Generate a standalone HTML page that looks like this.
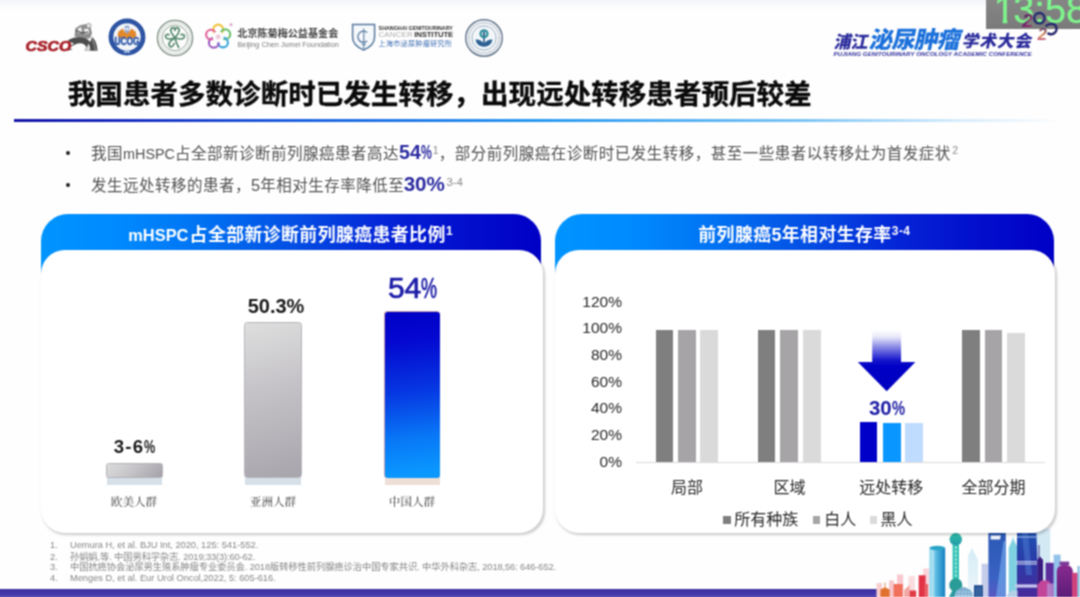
<!DOCTYPE html>
<html lang="zh-CN">
<head>
<meta charset="utf-8">
<title>我国患者多数诊断时已发生转移，出现远处转移患者预后较差</title>
<style>
*{margin:0;padding:0;box-sizing:border-box}
html,body{width:1080px;height:597px;overflow:hidden;background:#fefefe}
body{position:relative;font-family:"Liberation Sans","Noto Sans CJK SC",sans-serif;color:#111}
#clip{position:absolute;left:0;top:0;width:1080px;height:597px;overflow:hidden;contain:strict}
#stage{position:absolute;left:-20px;top:-20px;width:1120px;height:637px;background:#fefefe;filter:url(#soft)}
#page{position:absolute;left:20px;top:20px;width:1080px;height:597px}
.abs{position:absolute}
.nw{white-space:nowrap}
#topshade{left:-20px;top:-10px;width:1120px;height:20px;background:linear-gradient(#f3f4f9 0%,#f3f4f9 50%,#fefefe 100%)}
#title{left:67.8px;top:74.6px;font-size:27.5px;font-weight:700;line-height:40px;color:#0a0a0a;letter-spacing:.05px;-webkit-text-stroke:.35px #0a0a0a}
#rule{left:14px;top:118.5px;width:1050px;height:3px;background:linear-gradient(90deg,#1616a6 0%,#1a2cc0 10%,#1f62e0 27%,#2a9af0 50%,#7cc4f5 75%,rgba(190,225,250,.6) 90%,rgba(255,255,255,0) 100%)}
.bul{font-size:15.5px;color:#505050;line-height:24px;letter-spacing:.5px}
.bul .lt{font-size:14.4px;letter-spacing:0}
.pc{display:inline-block;transform-origin:0 50%}
.bul b{font-family:"Liberation Sans",sans-serif;color:#2a2aa0;font-weight:700;letter-spacing:0}
.bul sup{font-size:10.5px;vertical-align:baseline;position:relative;top:-5px;letter-spacing:0;color:#8a8a8a;margin-left:1.5px}
.dot{width:3.8px;height:3.8px;border-radius:50%;background:#222}
.hdr{height:60px;border-radius:27px 27px 0 0;color:#fff;font-weight:700;font-size:17.9px;line-height:42.4px;letter-spacing:.4px}
.hdr span{position:absolute;top:0;white-space:nowrap}
.hdr sup{font-size:12px;vertical-align:baseline;position:relative;top:-6.5px;margin-left:.3px}
.card{background:#fff;border-radius:24px;box-shadow:1.5px 2px 2.5px rgba(0,0,0,.2)}
.ref{font-size:9.3px;color:#868686;line-height:10.6px;letter-spacing:-.02px}
.ylab{font-size:15.5px;color:#262626;width:60px;text-align:right;line-height:18px}
.xlab{font-size:16px;color:#262626;text-align:center;width:100px;line-height:20px}
.bar{position:absolute}
.vlab{font-weight:700;text-align:center;line-height:24px;color:#1a1a1a}
.clab{font-family:"Liberation Serif","Noto Serif CJK SC",serif;font-size:11.6px;color:#333;width:100px;text-align:center;line-height:16px}
</style>
</head>
<body>
<svg width="0" height="0" style="position:absolute" aria-hidden="true"><defs><filter id="soft" x="0" y="0" width="100%" height="100%" color-interpolation-filters="sRGB"><feConvolveMatrix order="3" kernelMatrix="1 2 1 2 4 2 1 2 1" divisor="16" edgeMode="duplicate" preserveAlpha="true"/></filter></defs></svg>
<div id="clip"><div id="stage"><div id="page">
<div id="topshade" class="abs"></div>

<!-- HEADER LOGOS -->
<div id="logos" class="abs" style="left:0;top:0;width:1080px;height:70px">
<!-- CSCO -->
<svg class="abs" style="left:20px;top:18px" width="85" height="40" viewBox="20 18 85 40">
 <path d="M74.6 36.5 L75.2 28.6 L80 25.2 L86.2 24 L90.6 27.2 L92 33 L90.4 38 L84 39.5 Z" fill="#8e8e8e"/>
 <path d="M77 29.5 L81 27 L82 31.5 L78.5 33Z M84 29 L88.5 28.5 L89 33 L85 34Z" fill="#f0f0f0"/>
 <path d="M76 30 L82 33 L88 32" fill="none" stroke="#3c3c3c" stroke-width="1"/>
 <circle cx="88.8" cy="25.6" r="2.3" fill="#e4e4e4" stroke="#8a8a8a" stroke-width=".7"/>
 <path d="M67.5 41 Q73 36.2 82 37.6 Q87.5 38.6 90 42 L92.4 37 Q95.4 40 96.8 45.5 L97.6 50.8 H84.5 L86.4 47.2 Q84 42.2 77.5 43.6 Q72.5 45 69.6 48.8 L72.8 49.6 L68 50.6 Q70.4 45.2 74 43.4 Q70.6 42.2 67.5 41Z" fill="#4c4c4c"/>
 <path d="M88.6 43.5 Q90.6 46 90 50.8 H84.6 L86.6 47.4Z" fill="#d6d6d6"/>
 <path d="M92.6 39.4 L95.8 50.6" stroke="#9a9a9a" stroke-width="1.1"/>
 <text x="25.6" y="50.7" font-family="'Liberation Sans',sans-serif" font-weight="700" font-style="italic" font-size="14.2" fill="#a9222b" stroke="#a9222b" stroke-width=".7" textLength="45.6" lengthAdjust="spacingAndGlyphs">CSCO</text>
</svg>
<!-- UCOG -->
<svg class="abs" style="left:105.3px;top:15.2px" width="44" height="44" viewBox="-22 -22 44 44">
 <circle r="18.4" fill="#234c9e"/>
 <circle r="13.7" fill="#f3f5f9"/>
 <circle r="16" fill="none" stroke="#6f8cc6" stroke-width="1.2" stroke-dasharray="1.3 1.5" opacity=".6"/>
 <path d="M-9.5 -1 L-8.6 -5.6 L-4.4 -8.4 L-1.6 -4.6 L0 -6.4 L1.6 -4.6 L4.4 -8.4 L8.6 -5.6 L9.5 -1 L6 1.6 L-6 1.6Z" fill="#e2892e"/>
 <path d="M-2.4 -10.6 Q0 -12.6 2.4 -10.6 L2 -5.4 L0 -3 L-2 -5.4Z" fill="#8fa6d0"/>
 <circle cx="0" cy="-8" r="1.5" fill="#e9eef8"/>
 <text x="-12.6" y="8.3" font-family="'Liberation Sans',sans-serif" font-weight="700" font-size="10.4" fill="#2a55a6" stroke="#2a55a6" stroke-width=".5" textLength="25.2" lengthAdjust="spacingAndGlyphs">UCOG</text>
 <rect x="-3" y="13.6" width="6" height="2.2" fill="#9fb6e2"/>
</svg>
<!-- Green clover seal -->
<svg class="abs" style="left:153px;top:15.7px" width="44" height="44" viewBox="-22 -22 44 44">
 <circle r="17.6" fill="#fcfdfc" stroke="#7b8c80" stroke-width="1.3"/>
 <circle r="12.8" fill="#fbfcfb" stroke="#8c9c90" stroke-width=".9"/>
 <circle r="15.2" fill="none" stroke="#a3afa6" stroke-width="1.5" stroke-dasharray=".8 1.5"/>
 <g fill="none" stroke="#52856a" stroke-width="1.6">
  <path d="M0 0 C-3 -4 -6 -8 -3 -10 C-1 -11.5 0 -9 0 -7 C0 -9 1 -11.5 3 -10 C6 -8 3 -4 0 0Z"/>
  <path d="M0 0 C-4 1 -9 2 -9.5 -1.5 C-9.8 -4 -7 -4 -5.5 -3"/>
  <path d="M0 0 C4 1 9 2 9.5 -1.5 C9.8 -4 7 -4 5.5 -3"/>
  <path d="M0 0 C-4 2 -8 6 -5 8.5 C-3 10 -1.5 7 -0.5 5"/>
  <path d="M0 0 Q1 5 4 10"/>
 </g>
</svg>
<!-- Flower -->
<svg class="abs" style="left:202px;top:18px" width="36" height="36" viewBox="202 18 36 36">
 <g fill="none" stroke-width="2.1">
  <circle cx="218.2" cy="29.5" r="4.9" stroke="#f0c23a"/>
  <circle cx="225.3" cy="34.3" r="4.9" stroke="#6cc070"/>
  <circle cx="223" cy="42.5" r="4.9" stroke="#3aa6dc"/>
  <circle cx="213.8" cy="42.8" r="4.9" stroke="#9a5ac0"/>
  <circle cx="211" cy="34.6" r="4.9" stroke="#e0609a"/>
 </g>
 <circle cx="218.2" cy="36.8" r="5.6" fill="#fdfdfd"/>
 <g stroke="#e6a0c0" stroke-width=".6"><path d="M218.2 33.8v6M215.2 36.8h6M216.1 34.7l4.2 4.2M220.3 34.7l-4.2 4.2"/></g>
 <path d="M231 22.5l.7 1.6 1.6.7-1.6.7-.7 1.6-.7-1.6-1.6-.7 1.6-.7z" fill="#d8a0c8"/>
</svg>
<div class="abs nw" style="left:237.3px;top:26.8px;font-size:10.1px;line-height:14px;color:#444;font-weight:700;letter-spacing:0">北京陈菊梅公益基金会</div>
<div class="abs nw" style="left:237.5px;top:39.6px;font-size:7.25px;line-height:10px;color:#7a7a7a;letter-spacing:.02px">Beijing Chen Jumei Foundation</div>
<!-- Shield -->
<svg class="abs" style="left:350px;top:22px" width="28" height="30" viewBox="350 22 28 30">
 <path d="M352.6 24.6 H374.6 V37 Q374.6 45.5 363.6 50 Q352.6 45.5 352.6 37Z" fill="#f6f9fc" stroke="#56789f" stroke-width="1.5"/>
 <path d="M367.2 32.6 A5.6 5.6 0 1 0 367.2 41" fill="none" stroke="#56789f" stroke-width="1.3"/>
 <path d="M363.8 28.5 V48.4" stroke="#56789f" stroke-width="1.1"/>
 <path d="M361.6 44.5 H366" stroke="#56789f" stroke-width=".9"/>
</svg>
<div class="abs nw" style="left:378.6px;top:25px;font-size:5.3px;line-height:7px;font-weight:700;color:#2c2c2c;letter-spacing:.02px">SHANGHAI GENITOURINARY</div>
<div class="abs nw" style="left:378.4px;top:30px;font-size:7.7px;line-height:10px;color:#a8a8a8;letter-spacing:.35px;word-spacing:-1.2px">CANCER <b style="color:#2c2c2c;letter-spacing:-.1px">INSTITUTE</b></div>
<div class="abs nw" style="left:378.6px;top:38.8px;font-size:7.1px;line-height:10px;color:#3f6eb4;letter-spacing:.25px">上海市泌尿肿瘤研究所</div>
<!-- Round emblem -->
<svg class="abs" style="left:461.6px;top:15.7px" width="44" height="44" viewBox="-22 -22 44 44">
 <circle r="18.2" fill="#fbfcfd" stroke="#66788e" stroke-width="1.5"/>
 <circle r="15.2" fill="none" stroke="#8c9db0" stroke-width="1.9" stroke-dasharray=".9 1.3"/>
 <circle r="12.2" fill="#f3f7fa" stroke="#7f98b0" stroke-width=".8"/>
 <circle cx="0" cy="-4.2" r="4.6" fill="#2f8f9a"/>
 <circle cx="0" cy="-4.2" r="2.3" fill="#e8f2f4"/>
 <rect x="-.9" y="-6.4" width="1.8" height="4.6" fill="#2a5a8a"/>
 <path d="M-8.6 1.6 Q-4 1 0 5.4 Q4 1 8.6 1.6 Q7 8.6 0 8.8 Q-7 8.6 -8.6 1.6Z" fill="#2c5f92"/>
 <rect x="-.8" y="0" width="1.6" height="8" fill="#2c5f92"/>
</svg>

<!-- Conference logo -->
<div class="abs nw" style="left:831.6px;top:28.8px;font-size:17.2px;line-height:26px;font-weight:900;color:#2b2b9c;transform:skewX(-12deg);transform-origin:0 100%;letter-spacing:-.5px">浦江</div>
<div class="abs nw" style="left:866.8px;top:25px;font-size:23.4px;line-height:30px;font-weight:900;color:#1b70da;transform:skewX(-12deg);transform-origin:0 100%;letter-spacing:-.75px">泌尿肿瘤</div>
<div class="abs nw" style="left:959.8px;top:29.2px;font-size:16.8px;line-height:26px;font-weight:900;color:#2b2b9c;transform:skewX(-12deg);transform-origin:0 100%;letter-spacing:.7px">学术大会</div>
<div class="abs nw" style="left:833.6px;top:49.8px;font-size:6.1px;line-height:8px;font-weight:700;font-style:italic;color:#2b2b9c;letter-spacing:.06px">PUJIANG GENITOURINARY ONCOLOGY ACADEMIC CONFERENCE</div>

<!-- timestamp -->
<div class="abs" style="left:985.5px;top:-12px;width:110px;height:41.3px;background:linear-gradient(180deg,#8a8a8a,#7a7a7a);overflow:hidden"><div class="abs nw" style="left:6.6px;top:1.8px;font-size:38px;line-height:40px;color:#7ef58c;letter-spacing:0;-webkit-text-stroke:.3px #7ef58c"><span style="display:inline-block;margin:0 -1.6px 0 1.6px;clip-path:polygon(0 0,100% 0,100% 29px,13.6px 29px,13.6px 100%,9px 100%,9px 29px,0 29px)">1</span>3:58</div></div>
<!-- 2025 mark -->
<svg class="abs" style="left:1018px;top:8px" width="46" height="38" viewBox="1018 8 46 38">
 <defs><linearGradient id="tg" x1="0" y1="0" x2="1" y2="1"><stop offset="0" stop-color="#1a1a50"/><stop offset=".5" stop-color="#7a1a6a"/><stop offset="1" stop-color="#c03070"/></linearGradient>
 <linearGradient id="tg2" x1="0" y1="0" x2="0" y2="1"><stop offset="0" stop-color="#2a1a70"/><stop offset=".55" stop-color="#e08a50"/><stop offset="1" stop-color="#9a1a9a"/></linearGradient></defs>
 <circle cx="1039.4" cy="18.2" r="5.2" fill="none" stroke="#1f2a6e" stroke-width="2.3"/>
 <path d="M1045.5 26.2 Q1050 22.6 1054.6 24.6 A5.3 5.3 0 1 1 1047.6 33" fill="none" stroke="#23236e" stroke-width="2.3"/>
 <text x="1022.2" y="27.4" font-family="'Liberation Sans',sans-serif" font-size="19" font-style="italic" font-weight="700" fill="url(#tg)" opacity=".9">2</text>
 <text x="1037.4" y="40.2" font-family="'Liberation Sans',sans-serif" font-size="17" font-style="italic" font-weight="700" fill="url(#tg2)" opacity=".9">2</text>
</svg>
</div>

<div id="title" class="abs nw">我国患者多数诊断时已发生转移，出现远处转移患者预后较差</div>
<div id="rule" class="abs"></div>

<div class="abs dot" style="left:66.2px;top:151.4px"></div>
<div class="abs bul nw" style="left:91px;top:140.2px">我国<span class="lt">mHSPC</span>占全部新诊断前列腺癌患者高达<b style="font-size:19.6px">54<span class="pc" style="transform:scaleX(.62);width:10.5px">%</span></b><sup>1</sup>，部分前列腺癌在诊断时已发生转移，甚至一些患者以转移灶为首发症状<sup>2</sup></div>
<div class="abs dot" style="left:66.2px;top:183.3px"></div>
<div class="abs bul nw" style="left:91px;top:171.8px">发生远处转移的患者，<span class="lt" style="font-size:16.4px">5</span>年相对生存率降低至<b style="font-size:20.6px;margin-left:-.5px">30%</b><sup style="font-size:11.4px">3-4</sup></div>

<div class="abs" style="left:-20px;top:589.2px;width:896.8px;height:20px;background:linear-gradient(#3b2f9d 0%,#4135a8 18%,#463bac 30%,#5b53b3 40%,#5b53b3 100%)"></div>
<!-- SKYLINE -->
<svg class="abs" style="left:870px;top:525px" width="210" height="72" viewBox="870 525 210 72">
<defs>
<linearGradient id="cy" x1="0" y1="0" x2="1" y2="0"><stop offset="0" stop-color="#9adcf0"/><stop offset=".45" stop-color="#58b8e0"/><stop offset="1" stop-color="#1580c0"/></linearGradient>
<linearGradient id="pt" x1="0" y1="0" x2="0" y2="1"><stop offset="0" stop-color="#2ebfa8"/><stop offset="1" stop-color="#2599a8"/></linearGradient>
<linearGradient id="sw" x1="0" y1="0" x2="0" y2="1"><stop offset="0" stop-color="#2a58b4"/><stop offset=".7" stop-color="#3a62c4"/><stop offset="1" stop-color="#5a58c0"/></linearGradient>
<linearGradient id="st" x1="0" y1="0" x2="0" y2="1"><stop offset="0" stop-color="#2050b0"/><stop offset=".45" stop-color="#2a3aa8"/><stop offset="1" stop-color="#4a2a9a"/></linearGradient>
<linearGradient id="pb" x1="0" y1="0" x2="0" y2="1"><stop offset="0" stop-color="#d4ecf6"/><stop offset="1" stop-color="#eef6fb"/></linearGradient>
<linearGradient id="mg" x1="0" y1="0" x2="0" y2="1"><stop offset="0" stop-color="#8a2a90"/><stop offset="1" stop-color="#5c1c78"/></linearGradient>
</defs>
<!-- small warm buildings -->
<rect x="876.5" y="583" width="5.5" height="14" fill="#f9cfd0"/>
<rect x="889" y="580.5" width="5" height="17" fill="#f7c6cc"/>
<rect x="897" y="574.5" width="6.2" height="23" fill="#f9c8cf"/>
<rect x="908.5" y="576" width="6.5" height="21" fill="#fbdde0"/>
<rect x="923" y="568.5" width="6.5" height="29" fill="#f9d4da"/>
<path d="M880.4 597 V589.5 L884.6 587.5 V582.5 H885.4 V587.5 L889.6 589.5 V597Z" fill="#e0702e"/>
<rect x="893.6" y="584" width="9.2" height="13" fill="#f0705c"/>
<path d="M904 597 V590 L909.6 585 V597Z" fill="#f2a8a4"/>
<rect x="909.6" y="590.5" width="6.6" height="6.5" fill="#e03c48"/>
<rect x="918.7" y="575.3" width="6.9" height="21.7" fill="#e23246"/>
<rect x="924.5" y="584" width="3.5" height="13" fill="#ea6068"/>
<!-- cyan cylinder -->
<rect x="929.4" y="548" width="15.8" height="49" fill="url(#cy)"/>
<ellipse cx="937.3" cy="548" rx="7.9" ry="2.2" fill="#2aa4c6"/>
<rect x="931" y="550" width="3.4" height="47" fill="#b8e6f4" opacity=".7"/>
<!-- pale building -->
<path d="M968 597 V556 L972 548 L978 560 V597Z" fill="url(#pb)"/>
<rect x="981.6" y="563.7" width="6.8" height="33.3" fill="#c6cdea"/>
<!-- pearl tower -->
<rect x="955.2" y="530" width="1" height="6" fill="#2ebfa8"/>
<rect x="952.6" y="542" width="6.4" height="41" fill="#32c2b4"/>
<g fill="#e9fbf8"><rect x="955" y="546.5" width="1.5" height="2"/><rect x="955" y="550.5" width="1.5" height="2"/><rect x="955" y="554.5" width="1.5" height="2"/><rect x="955" y="558.5" width="1.5" height="2"/><rect x="955" y="562.5" width="1.5" height="2"/><rect x="955" y="566.5" width="1.5" height="2"/><rect x="955" y="570.5" width="1.5" height="2"/><rect x="955" y="574.5" width="1.5" height="2"/></g>
<circle cx="955.8" cy="539.3" r="6.2" fill="url(#pt)"/>
<path d="M949 597 L953.5 588 H958.5 L962.5 597Z" fill="#2a9aa0"/>
<circle cx="955.8" cy="585" r="6.6" fill="#2a9c98"/>
<!-- dome -->
<path d="M954.5 597 A9.6 9.6 0 0 1 973.7 597Z" fill="#a9cfe6"/>
<path d="M957 597 A7 9 0 0 1 971 597 M960.5 597 A3.6 9.4 0 0 1 967.7 597 M964.1 587.5 V597 M955.5 593.5 H972.8 M957.5 590.5 H970.8" fill="none" stroke="#4f86b8" stroke-width=".5"/>
<rect x="974" y="585.2" width="8.8" height="11.8" fill="#1c4a8c"/>
<path d="M976.2 587 V597 M978.4 587 V597 M980.6 587 V597" stroke="#8fb4dc" stroke-width=".5"/>
<!-- SWFC -->
<path d="M988.4 597 V533 H1005.8 V597Z" fill="url(#sw)"/>
<path d="M996 597 L1003.5 541 L1005.8 541 V597Z" fill="#6aa0e6" opacity=".75"/>
<path d="M990.6 535.4 H1000.8 L1000 539.6 H990.6Z" fill="#f2f6fc"/>
<!-- pale cyan spire -->
<path d="M1008.7 597 V548 L1013 538 L1017 546 V597Z" fill="#7fd0e0"/>
<path d="M1013.2 537 V545" stroke="#9adcec" stroke-width=".8"/>
<!-- pale tall behind -->
<rect x="1036" y="529" width="14.2" height="68" fill="#d3e9f4"/>
<!-- big tower -->
<path d="M1017 597 V533 H1036.4 L1037.4 560 V597Z" fill="url(#st)"/>
<path d="M1022 533 L1028 533 L1032 575 L1026 575Z" fill="#4a78d0" opacity=".55"/>
<rect x="1017" y="536.2" width="19.4" height="1.5" fill="#9ab4e8" opacity=".8"/>
<rect x="1015.8" y="561.2" width="21.6" height="1" fill="#e6ecfa"/>
<rect x="1015.8" y="563.4" width="21.6" height="1" fill="#e6ecfa"/>
<rect x="1015" y="584.4" width="23.4" height="3.2" fill="#c9c6ee"/>
<path d="M1006.5 597 A8.8 8.8 0 0 1 1017.5 590.5 V597Z" fill="#b6cfe8"/>
<!-- right cluster -->
<rect x="1038.4" y="545" width="1" height="14" fill="#3a2a8a"/>
<path d="M1037.2 597 V560 L1040 556.5 L1043 560 V597Z" fill="#3a1c80"/>
<rect x="1045.6" y="562.8" width="10" height="34.2" fill="#5a2c9c"/>
<rect x="1053.6" y="554.6" width="7" height="42.4" fill="#93c3ea"/>
<path d="M1056.8 597 V571 Q1057 565 1064.6 564.4 Q1072.4 565 1072.8 571 V597Z" fill="url(#mg)"/>
<rect x="1059.6" y="561.6" width="9.6" height="3.4" fill="#7a3a9a"/>
<rect x="1072" y="572.8" width="6.6" height="24.2" fill="#d0427e"/>
<rect x="1077.4" y="566" width="2.6" height="31" fill="#95c4e2"/>
<path d="M1037.4 597 V585 L1041 580.6 H1048.4 L1051.6 585 V597Z" fill="#c2459a"/>
<rect x="1047" y="583.5" width="7" height="13.5" fill="#b48ad0" opacity=".8"/>
</svg>

<!-- CARD 1 -->
<div class="abs hdr" style="left:41px;top:214px;width:500px;background:linear-gradient(90deg,#0094ff 0%,#008aff 15%,#0076f4 30%,#0450e4 50%,#0422d6 70%,#020ecc 85%,#0000c6 100%)"><span style="left:87.3px"><span style="position:static;font-size:16.4px;letter-spacing:0;margin-right:1.2px">mHSPC</span>占全部新诊断前列腺癌患者比例<sup>1</sup></span></div>
<div class="abs card" style="left:41px;top:250.2px;width:501.5px;height:282.6px"></div>

<div class="bar" style="left:106.5px;top:474px;width:55.5px;height:11px;background:#d6e0e8"></div>
<div class="bar" style="left:105.6px;top:462.9px;width:57px;height:15.3px;border-radius:2.5px;border:1px solid #b4b2b8;background:linear-gradient(135deg,#dcdcdc 0%,#c4c2c6 50%,#a4a0a8 100%)"></div>
<div class="bar" style="left:245.4px;top:470px;width:55.5px;height:15px;background:#d6e0e8"></div>
<div class="bar" style="left:244.3px;top:322.4px;width:57.6px;height:155.8px;border-radius:3.5px;border:1px solid #b6b4ba;background:linear-gradient(165deg,#dedede 0%,#c6c4c8 40%,#a8a4ac 100%)"></div>
<div class="bar" style="left:385.3px;top:470px;width:54.5px;height:15px;background:#eedfd6"></div>
<div class="bar" style="left:384.3px;top:311.3px;width:56.2px;height:167px;border-radius:3.5px;background:#c8a0b0"></div>
<div class="bar" style="left:385px;top:312px;width:54.8px;height:165.6px;border-radius:3px;background:linear-gradient(173deg,#0000c6 0%,#0408d0 18%,#0638e2 48%,#0878f6 75%,#0a98ff 96%)"></div>

<div class="abs vlab nw" style="left:84px;width:100px;top:435px;font-size:18.6px;letter-spacing:1.2px">3-6<span class="pc" style="transform:scaleX(.68);width:10px;letter-spacing:0">%</span></div>
<div class="abs vlab nw" style="left:226px;width:100px;top:294px;font-size:20px">50.3%</div>
<div class="abs vlab nw" style="left:362.5px;width:100px;top:269.6px;font-size:30px;line-height:36px;color:#1c1ca8;font-weight:400;-webkit-text-stroke:.7px #1c1ca8">54<span class="pc" style="transform:scaleX(.6);width:15.8px">%</span></div>

<div class="abs clab nw" style="left:84px;top:495px">欧美人群</div>
<div class="abs clab nw" style="left:223px;top:495px">亚洲人群</div>
<div class="abs clab nw" style="left:362px;top:495px">中国人群</div>

<!-- CARD 2 -->
<div class="abs hdr" style="left:555px;top:214px;width:499px;background:linear-gradient(90deg,#0094ff 0%,#008aff 15%,#0076f4 30%,#0450e4 50%,#0422d6 70%,#020ecc 85%,#0000c6 100%)"><span style="left:143.3px">前列腺癌5年相对生存率<sup>3-4</sup></span></div>
<div class="abs card" style="left:555px;top:250.2px;width:500.4px;height:282.6px"></div>

<div class="abs ylab nw" style="left:562px;top:292.6px">120%</div>
<div class="abs ylab nw" style="left:562px;top:319.2px">100%</div>
<div class="abs ylab nw" style="left:562px;top:345.9px">80%</div>
<div class="abs ylab nw" style="left:562px;top:372.5px">60%</div>
<div class="abs ylab nw" style="left:562px;top:399.2px">40%</div>
<div class="abs ylab nw" style="left:562px;top:425.8px">20%</div>
<div class="abs ylab nw" style="left:562px;top:452.5px">0%</div>
<div class="bar" style="left:635.5px;top:461.6px;width:409.5px;height:1.2px;background:#d9d9d9"></div>
<div class="bar" style="left:655.5px;top:330.1px;width:17.3px;height:131.9px;background:#7f7f7f"></div>
<div class="bar" style="left:677.8px;top:330.1px;width:17.9px;height:131.9px;background:#a6a4a6"></div>
<div class="bar" style="left:700.2px;top:330.1px;width:18.1px;height:131.9px;background:#dadada"></div>
<div class="bar" style="left:757.8px;top:330.1px;width:17.5px;height:131.9px;background:#7f7f7f"></div>
<div class="bar" style="left:780.2px;top:330.1px;width:17.5px;height:131.9px;background:#a6a4a6"></div>
<div class="bar" style="left:802.5px;top:330.1px;width:18.1px;height:131.9px;background:#dadada"></div>
<div class="bar" style="left:859.7px;top:422.4px;width:17.6px;height:39.6px;background:#0000c8"></div>
<div class="bar" style="left:882.6px;top:423px;width:18.0px;height:39px;background:#0a96ff"></div>
<div class="bar" style="left:905px;top:423px;width:18px;height:39px;background:#bfdcff"></div>
<div class="bar" style="left:962px;top:330.1px;width:17.6px;height:131.9px;background:#7f7f7f"></div>
<div class="bar" style="left:984.9px;top:330.1px;width:17.3px;height:131.9px;background:#a6a4a6"></div>
<div class="bar" style="left:1007.3px;top:333px;width:17.8px;height:129px;background:#dadada"></div>

<svg class="abs" style="left:850px;top:325px" width="75" height="70" viewBox="850 325 75 70">
<defs><linearGradient id="ag" x1="0" y1="0" x2="0" y2="1"><stop offset="0" stop-color="#ffffff"/><stop offset=".12" stop-color="#e8e8fa"/><stop offset=".3" stop-color="#8080e4"/><stop offset=".5" stop-color="#1414cc"/><stop offset=".6" stop-color="#0000c6"/><stop offset="1" stop-color="#0000c0"/></linearGradient></defs>
<polygon points="872.2,329.5 901.1,329.5 901.1,362.1 915.4,362.1 886.7,391.2 857.8,362.1 872.2,362.1" fill="url(#ag)"/>
</svg>
<div class="abs vlab nw" style="left:837px;width:100px;top:395.5px;font-size:20.4px;color:#2020a6">30<span class="pc" style="transform:scaleX(.72);width:13.4px">%</span></div>
<div class="abs xlab nw" style="left:637px;top:478.2px">局部</div>
<div class="abs xlab nw" style="left:739.4px;top:478.2px">区域</div>
<div class="abs xlab nw" style="left:841.3px;top:478.2px">远处转移</div>
<div class="abs xlab nw" style="left:943.6px;top:478.2px">全部分期</div>
<div class="bar" style="left:723.3px;top:516.4px;width:7.8px;height:7.8px;background:#7f7f7f"></div><div class="abs xlab nw" style="left:734.2px;top:510.4px;width:auto;text-align:left">所有种族</div>
<div class="bar" style="left:812.6px;top:516.4px;width:7.8px;height:7.8px;background:#a6a4a6"></div><div class="abs xlab nw" style="left:824.2px;top:510.4px;width:auto;text-align:left">白人</div>
<div class="bar" style="left:869.6px;top:516.4px;width:7.8px;height:7.8px;background:#dadada"></div><div class="abs xlab nw" style="left:880.6px;top:510.4px;width:auto;text-align:left">黑人</div>

<!-- REFS -->
<div class="abs ref nw" style="left:50px;top:539.7px">1.</div><div class="abs ref nw" style="left:70px;top:539.7px">Uemura H, et al. BJU Int, 2020, 125: 541-552.</div>
<div class="abs ref nw" style="left:50px;top:551.7px">2.</div><div class="abs ref nw" style="left:70px;top:551.7px;letter-spacing:-.12px">孙娟娟,等. 中国男科学杂志. 2019;33(3):60-62.</div>
<div class="abs ref nw" style="left:50px;top:562.2px">3.</div><div class="abs ref nw" style="left:70px;top:562.2px;letter-spacing:-.1px">中国抗癌协会泌尿男生殖系肿瘤专业委员会. 2018版转移性前列腺癌诊治中国专家共识. 中华外科杂志, 2018,56: 646-652.</div>
<div class="abs ref nw" style="left:50px;top:573.4px">4.</div><div class="abs ref nw" style="left:70px;top:573.4px">Menges D, et al. Eur Urol Oncol,2022, 5: 605-616.</div>


</div></div></div>
</body>
</html>
